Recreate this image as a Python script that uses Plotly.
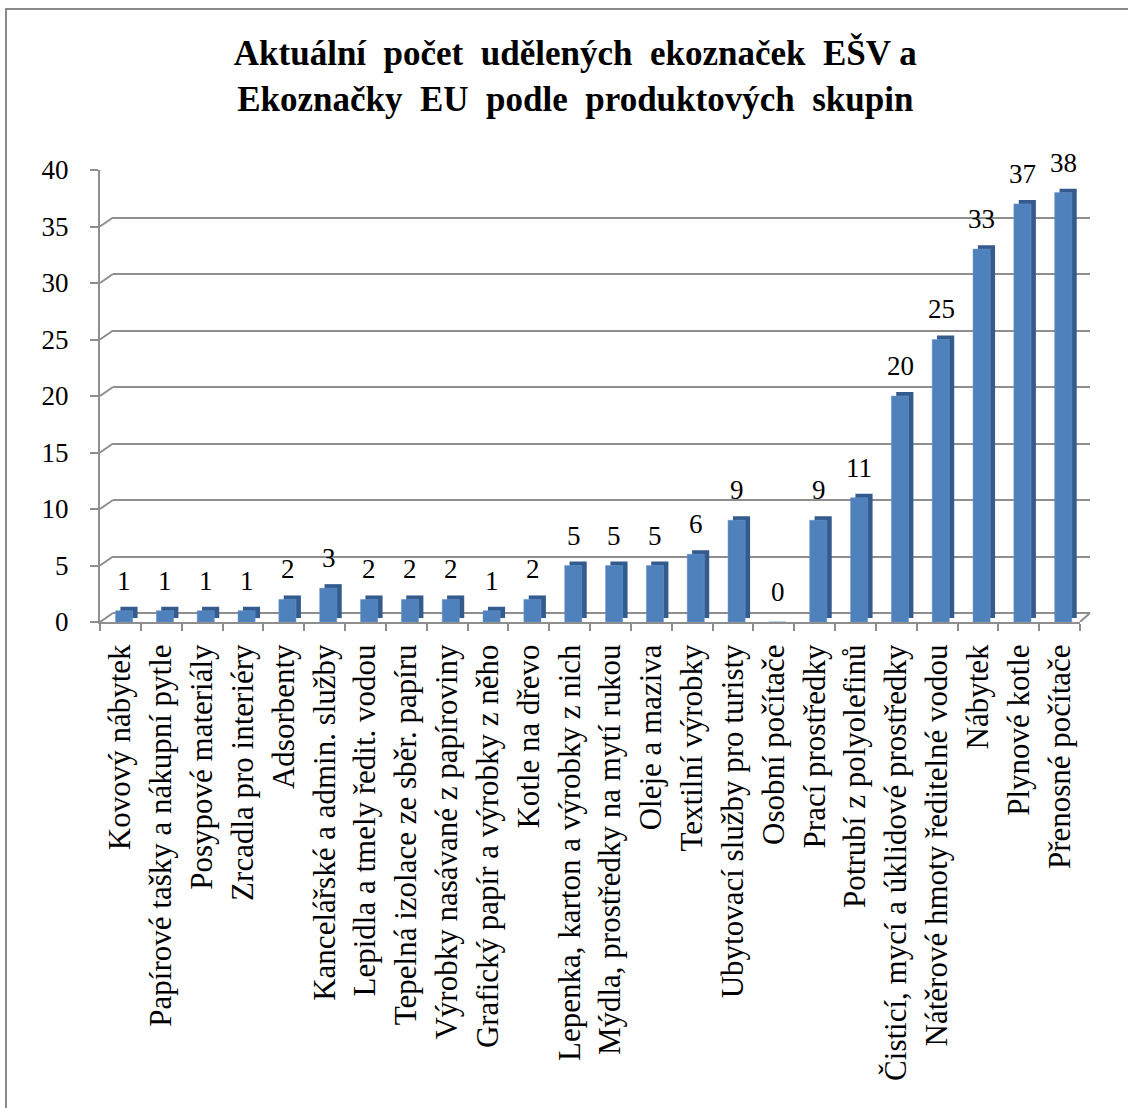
import plotly.graph_objects as go

categories = [
    "Kovový nábytek", "Papírové tašky a nákupní pytle", "Posypové materiály",
    "Zrcadla pro interiéry", "Adsorbenty", "Kancelářské a admin. služby",
    "Lepidla a tmely ředit. vodou", "Tepelná izolace ze sběr. papíru",
    "Výrobky nasávané z papíroviny", "Grafický papír a výrobky z něho",
    "Kotle na dřevo", "Lepenka, karton a výrobky z nich",
    "Mýdla, prostředky na mytí rukou", "Oleje a maziva", "Textilní výrobky",
    "Ubytovací služby pro turisty", "Osobní počítače", "Prací prostředky",
    "Potrubí z polyolefinů", "Čisticí, mycí a úklidové prostředky",
    "Nátěrové hmoty ředitelné vodou", "Nábytek", "Plynové kotle",
    "Přenosné počítače",
]
values = [1, 1, 1, 1, 2, 3, 2, 2, 2, 1, 2, 5, 5, 5, 6, 9, 0, 9, 11, 20, 25, 33, 37, 38]
y_ticks = [0, 5, 10, 15, 20, 25, 30, 35, 40]
title_line1 = "Aktuální  počet  udělených  ekoznaček  EŠV a"
title_line2 = "Ekoznačky  EU  podle  produktových  skupin"

W, H = 1128, 1108
SERIF = "Liberation Serif"
GRID = "#8e8e8e"

def px(x):
    return x / W

def py(y):
    return 1 - y / H

def wide(s):
    return s.replace("  ", "\u00a0 ")

fig = go.Figure()

# invisible trace to create the back-wall (grid) subplot
fig.add_trace(go.Scatter(x=[0], y=[0], xaxis="x", yaxis="y", mode="markers",
                         marker=dict(opacity=0), hoverinfo="skip", showlegend=False))

# dark side/top face (3D look)
fig.add_trace(go.Bar(
    x=categories, y=values, base=[0.35] * len(values),
    xaxis="x2", yaxis="y2",
    width=0.42, offset=0.0,
    marker=dict(color="#335b8e", line=dict(width=0)),
    hoverinfo="skip", showlegend=False,
))
# front face
fig.add_trace(go.Bar(
    x=categories, y=values,
    xaxis="x2", yaxis="y2",
    width=0.42, offset=-0.12,
    marker=dict(color="#4f81bd", line=dict(color="#6f98cc", width=0.5)),
    showlegend=False,
))

# data labels
for c, v in zip(categories, values):
    fig.add_annotation(
        x=c, y=v, xref="x2", yref="y2", text=str(v), showarrow=False,
        yanchor="bottom", yshift=13, xshift=4,
        font=dict(family=SERIF, size=27, color="black"),
    )

# depth connectors from the front axis to the back wall
for t in y_ticks:
    fig.add_shape(type="line", xref="x2 domain", yref="y2",
                  x0=0, y0=t, x1=13 / 980, y1=t + 0.8,
                  line=dict(color=GRID, width=2))
fig.add_shape(type="line", xref="x2 domain", yref="y2",
              x0=1, y0=0, x1=1 + 10 / 980, y1=0.8,
              line=dict(color=GRID, width=2))

# outer frame (only left and top edges visible)
fig.add_shape(type="rect", xref="paper", yref="paper",
              x0=px(6), y0=py(1140), x1=px(1150), y1=py(9),
              line=dict(color="#8a8a8a", width=2), layer="below")

fig.update_layout(
    width=W, height=H,
    margin=dict(l=0, r=0, t=0, b=0, autoexpand=False),
    paper_bgcolor="white", plot_bgcolor="rgba(0,0,0,0)",
    barmode="overlay",
    title=dict(text=wide(title_line1) + "<br>" + wide(title_line2),
               x=0.51, xanchor="center", y=py(65), yanchor="middle",
               font=dict(family=SERIF, size=35, color="black", weight="bold")),
    # grid subplot (back wall)
    xaxis=dict(domain=[px(113), px(1090)], range=[0, 1], showticklabels=False,
               showgrid=False, zeroline=False, showline=False, ticks="", automargin=False),
    yaxis=dict(domain=[py(613), py(161)], range=[0, 40], tickvals=y_ticks,
               showticklabels=False, showgrid=True, gridcolor=GRID, gridwidth=2,
               zeroline=True, zerolinecolor=GRID, zerolinewidth=2, showline=False, ticks="",
               automargin=False),
    # data subplot (front)
    xaxis2=dict(domain=[px(100), px(1080)], anchor="y2", type="category",
                range=[-0.5, len(categories) - 0.5], automargin=False,
                showgrid=False, zeroline=False, showline=True, linecolor=GRID, linewidth=2,
                ticks="outside", tickson="boundaries", ticklen=7, tickcolor=GRID, tickwidth=2,
                ticklabelstandoff=8,
                tickangle=-90, tickfont=dict(family=SERIF, size=31, color="black")),
    yaxis2=dict(domain=[py(622), py(170)], anchor="x2", range=[0, 40], tickvals=y_ticks,
                automargin=False,
                showgrid=False, zeroline=False, showline=True, linecolor=GRID, linewidth=2,
                ticks="outside", ticklen=8, tickcolor=GRID, tickwidth=2,
                ticklabelstandoff=16,
                tickfont=dict(family=SERIF, size=27, color="black")),
)

fig.write_html("out.html")
